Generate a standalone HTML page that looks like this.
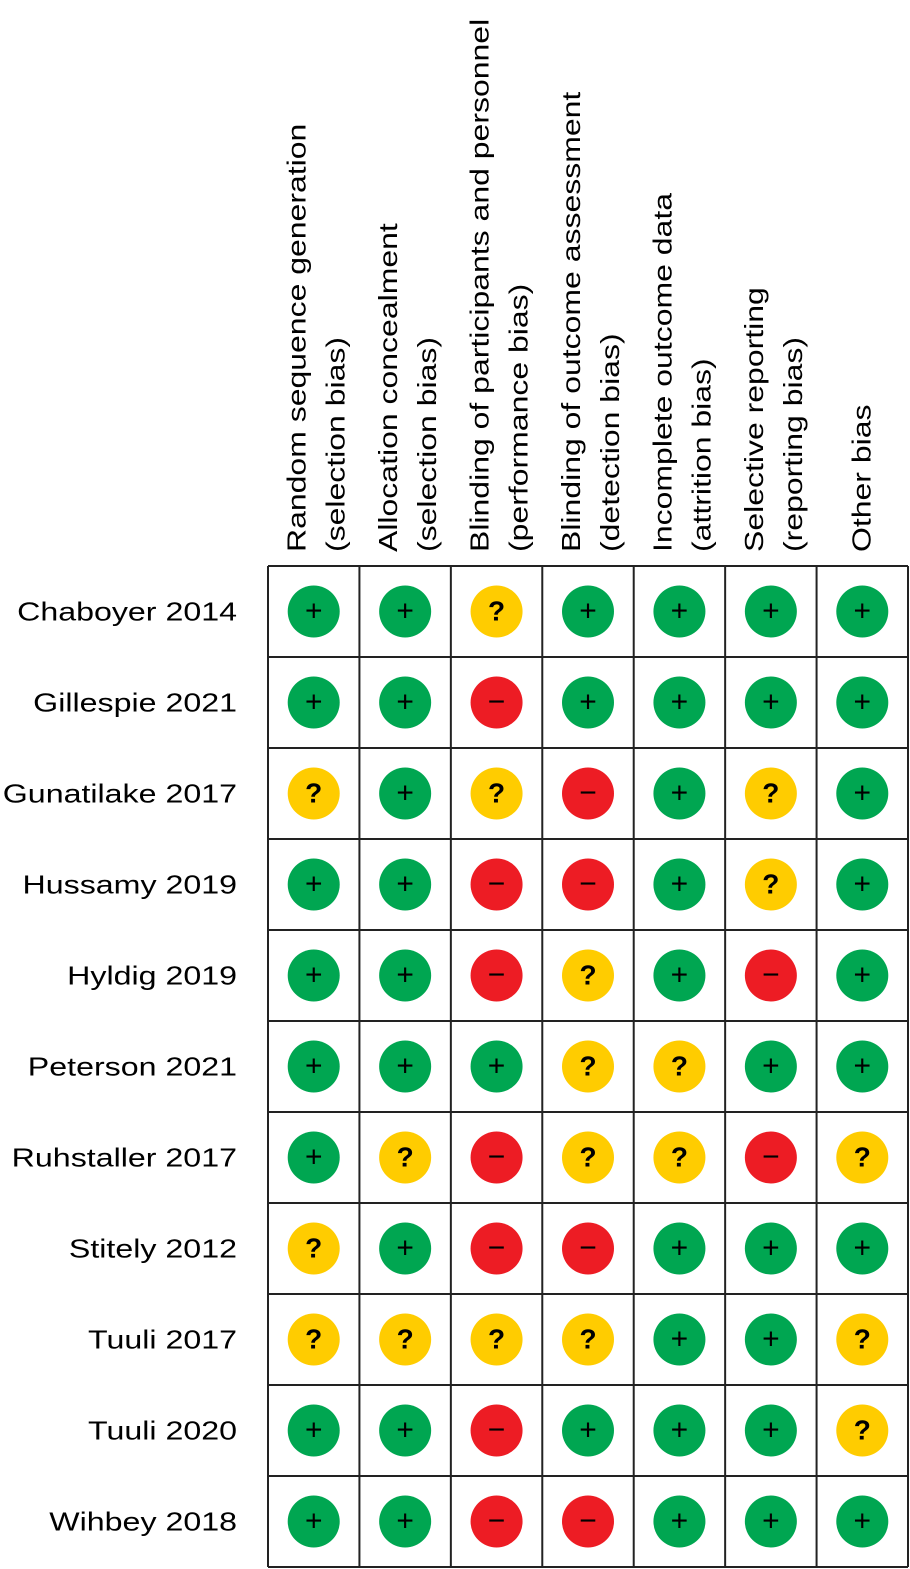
<!DOCTYPE html>
<html><head><meta charset="utf-8"><style>
html,body{margin:0;padding:0;background:#fff;}
svg{display:block;font-family:"Liberation Sans",sans-serif;}
</style></head><body>
<svg id="chart" width="910" height="1569" viewBox="0 0 910 1569" xmlns="http://www.w3.org/2000/svg"></svg>
<script>
const studies = ["Chaboyer 2014","Gillespie 2021","Gunatilake 2017","Hussamy 2019","Hyldig 2019","Peterson 2021","Ruhstaller 2017","Stitely 2012","Tuuli 2017","Tuuli 2020","Wihbey 2018"];
const domains = [
 ["Random sequence generation","(selection bias)"],
 ["Allocation concealment","(selection bias)"],
 ["Blinding of participants and personnel","(performance bias)"],
 ["Blinding of outcome assessment","(detection bias)"],
 ["Incomplete outcome data","(attrition bias)"],
 ["Selective reporting","(reporting bias)"],
 ["Other bias"]
];
const judgements = [
 "GGYGGGG",
 "GGRGGGG",
 "YGYRGYG",
 "GGRRGYG",
 "GGRYGRG",
 "GGGYYGG",
 "GYRYYRY",
 "YGRRGGG",
 "YYYYGGY",
 "GGRGGGY",
 "GGRRGGG"
];
const svg = document.getElementById('chart');
const NS = "http://www.w3.org/2000/svg";
const x0=268, y0=566, cw=(908-268)/7, rh=(1567-566)/11;
const colX = i => x0 + cw*i;
const rowY = j => y0 + rh*j;
const colors = {G:"#00A651",R:"#ED1C24",Y:"#FFCC00"};
const syms = {G:"+",R:"\u2212",Y:"?"};
function mk(tag, attrs){const e=document.createElementNS(NS,tag);for(const k in attrs)e.setAttribute(k,attrs[k]);svg.appendChild(e);return e;}
function stretch(e, f){const L=e.getComputedTextLength();e.setAttribute('textLength',(L*f).toFixed(1));e.setAttribute('lengthAdjust','spacingAndGlyphs');}
// headers
domains.forEach((lines,i)=>{
  const c = colX(i)+cw/2;
  const offs = lines.length===2 ? [-8,31] : [8];
  lines.forEach((t,k)=>{
    const e = mk('text',{transform:`translate(${c+offs[k]},552) rotate(-90)`,'font-size':'26',fill:'#000'});
    
    
    e.textContent=t;
    stretch(e, 1.39*23/26);
  });
});
// row labels
studies.forEach((s,j)=>{
  const e = mk('text',{x:237,y:rowY(j)+rh/2+9,'text-anchor':'end','font-size':'26',fill:'#000'});
  
  
  e.textContent=s;
  stretch(e, 1.34*24/26);
});
// grid
for(let i=0;i<=7;i++){const l=mk('line',{x1:colX(i),y1:y0,x2:colX(i),y2:rowY(11),stroke:'#222','stroke-width':'2'});}
for(let j=0;j<=11;j++){const l=mk('line',{x1:x0,y1:rowY(j),x2:colX(7),y2:rowY(j),stroke:'#222','stroke-width':'2'});}
// cells
judgements.forEach((row,j)=>{
  row.split('').forEach((v,i)=>{
    const cx=colX(i)+cw/2, cy=rowY(j)+rh/2;
    const c=mk('circle',{cx:cx,cy:cy,r:26,fill:colors[v]});
    
    
    const t=mk('text',{x:cx,y:cy+9,'text-anchor':'middle','font-size':v==='Y'?'28':'30','font-weight':v==='Y'?'bold':'normal',fill:'#000'});
    
    
    t.textContent=syms[v];
  });
});
</script>
</body></html>
